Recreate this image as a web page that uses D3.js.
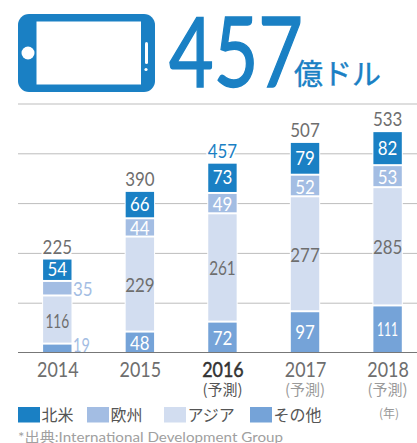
<!DOCTYPE html>
<html>
<head>
<meta charset="utf-8">
<script src="https://d3js.org/d3.v7.min.js"></script>
<style>
html,body{margin:0;padding:0;background:#fff;overflow:hidden;}
text{font-family:Lato,"Noto Sans CJK JP",sans-serif;}
</style>
</head>
<body>
<svg id="chart" width="417" height="443"></svg>
<script>
// values
var years = ["2014","2015","2016","2017","2018"];
var forecast = ["","","(予測)","(予測)","(予測)"];
var totals = [225,390,457,507,533];
var other = [19,48,72,97,111];
var asia = [116,229,261,277,285];
var europe = [35,44,49,52,53];
var northAmerica = [54,66,73,79,82];
var gridValues = [120,240,360,480,600];
var legendNames = ["北米","欧州","アジア","その他"];

var blue = "#1a80c4", midBlue = "#a3bde3", pale = "#d2ddf0", steel = "#75a3d8", grey = "#6e6e6e";

var svg = d3.select("#chart");
var x = d3.scalePoint().domain(years).range([57.3,387.6]);
var y = d3.scaleLinear().domain([0,600]).range([352.5,103.5]);
var barWidth = 28.4;

// digits in the original are narrower than Lato, and the 1s narrower still
function numWidth(v){
	var w = 0;
	String(v).split("").forEach(function(c){ w += c=="1" ? 7 : 9.8; });
	return w;
}

// header icon
var icon = svg.append("g");
icon.append("rect").attr("x",18).attr("y",14).attr("width",137).attr("height",78).attr("rx",11).attr("fill",blue);
icon.append("rect").attr("x",36.5).attr("y",21.5).attr("width",104.5).attr("height",63).attr("fill","#fff");
icon.append("circle").attr("cx",28).attr("cy",53).attr("r",6.5).attr("fill","#fff");
icon.append("rect").attr("x",145).attr("y",42).attr("width",3).attr("height",22).attr("rx",1.5).attr("fill","#fff");
icon.append("circle").attr("cx",146).attr("cy",69.5).attr("r",1.6).attr("fill","#fff");

svg.append("text").attr("x",169).attr("y",87).attr("font-size",97).attr("fill",blue)
	.attr("stroke",blue).attr("stroke-width",1.5)
	.attr("textLength",134).attr("lengthAdjust","spacingAndGlyphs").text("457");
svg.append("text").attr("x",294).attr("y",84.5).attr("font-size",29).attr("fill",blue)
	.attr("stroke",blue).attr("stroke-width",0.4)
	.style("font-family","'Noto Sans CJK JP'").text("億ドル");

// grid
var grid = svg.append("g").attr("transform","translate(18,0)")
	.call(d3.axisRight(y).tickValues(gridValues).tickSize(399).tickFormat(""));
grid.select(".domain").remove();
grid.selectAll("line").attr("stroke","#bdbdbd").attr("stroke-width",1);

// stacked bars, bottom to top
var stackSeries = [
	{values:other,color:steel,label:"#fff",shift:7},
	{values:asia,color:pale,label:grey,shift:7},
	{values:europe,color:midBlue,label:"#fff",shift:7},
	{values:northAmerica,color:blue,label:"#fff",shift:5.5}
];
var barsG = svg.append("g");
var labelsG = svg.append("g");

years.forEach(function(year,i){
	var sum = 0;
	var left = x(year)-barWidth/2;
	// white backing cuts the grid lines around the bar
	barsG.append("rect").attr("x",left-1).attr("width",barWidth+2)
		.attr("y",y(totals[i])-1).attr("height",y(0)-y(totals[i])+1).attr("fill","#fff");
	stackSeries.forEach(function(s,si){
		var v = s.values[i];
		var y0 = y(sum), y1 = y(sum+v);
		sum += v;
		barsG.append("rect").attr("x",left).attr("width",barWidth)
			.attr("y",y1).attr("height",y0-y1-(si==0?0:2)).attr("fill",s.color);
		var outside = i==0 && (si==0 || si==2);
		labelsG.append("text")
			.attr("x",outside ? left+barWidth+1.5 : x(year))
			.attr("y",Math.min((y0+y1)/2+s.shift,351.5))
			.attr("text-anchor",outside?"start":"middle")
			.attr("font-size",20)
			.attr("fill",outside?midBlue:s.label)
			.attr("textLength",numWidth(v)).attr("lengthAdjust","spacingAndGlyphs")
			.text(v);
	});
	labelsG.append("text").attr("x",x(year)).attr("y",y(totals[i])-5)
		.attr("text-anchor","middle").attr("font-size",20)
		.attr("fill",i==2?blue:grey)
		.attr("stroke","#fff").attr("stroke-width",4).attr("paint-order","stroke")
		.attr("textLength",numWidth(totals[i])).attr("lengthAdjust","spacingAndGlyphs")
		.text(totals[i]);
});

// year axis
var axis = svg.append("g").attr("transform","translate(0,352.5)")
	.call(d3.axisBottom(x).tickSize(0).tickPadding(8));
axis.select(".domain").remove();
axis.selectAll("text").attr("font-size",22).attr("y",24.5).attr("dy",0)
	.style("font-family","Lato")
	.attr("fill",function(d){return d=="2016"?"#333":grey;})
	.attr("stroke",function(d){return d=="2016"?"#333":"none";})
	.attr("stroke-width",0.5)
	.attr("textLength",41.5).attr("lengthAdjust","spacingAndGlyphs");
svg.append("line").attr("x1",18).attr("x2",417).attr("y1",y(0)).attr("y2",y(0))
	.attr("stroke","#777").attr("stroke-width",1);

forecast.forEach(function(t,i){
	if(!t) return;
	svg.append("text").attr("x",x(years[i])).attr("y",395)
		.attr("text-anchor","middle").attr("font-size",15)
		.style("font-family","'Noto Sans CJK JP'")
		.attr("fill",i==2?"#555":"#9a9a9a").text(t);
});
svg.append("text").attr("x",389).attr("y",418).attr("text-anchor","middle")
	.attr("font-size",12).attr("fill","#999")
	.style("font-family","'Noto Sans CJK JP'").text("(年)");

// legend
var legendX = d3.scaleOrdinal().domain(legendNames).range([18,87,164,250]);
var legendColor = d3.scaleOrdinal().domain(legendNames).range([blue,midBlue,pale,steel]);
legendNames.forEach(function(name){
	svg.append("rect").attr("x",legendX(name)).attr("y",407).attr("width",22).attr("height",15.5).attr("fill",legendColor(name));
	svg.append("text").attr("x",legendX(name)+23.5).attr("y",420.5).attr("font-size",16)
		.attr("fill","#555").text(name);
});

svg.append("text").attr("x",18).attr("y",442).attr("font-size",14).attr("fill","#a0a0a0")
	.attr("textLength",265).attr("lengthAdjust","spacingAndGlyphs")
	.text("*出典:International Development Group");
</script>
</body>
</html>
